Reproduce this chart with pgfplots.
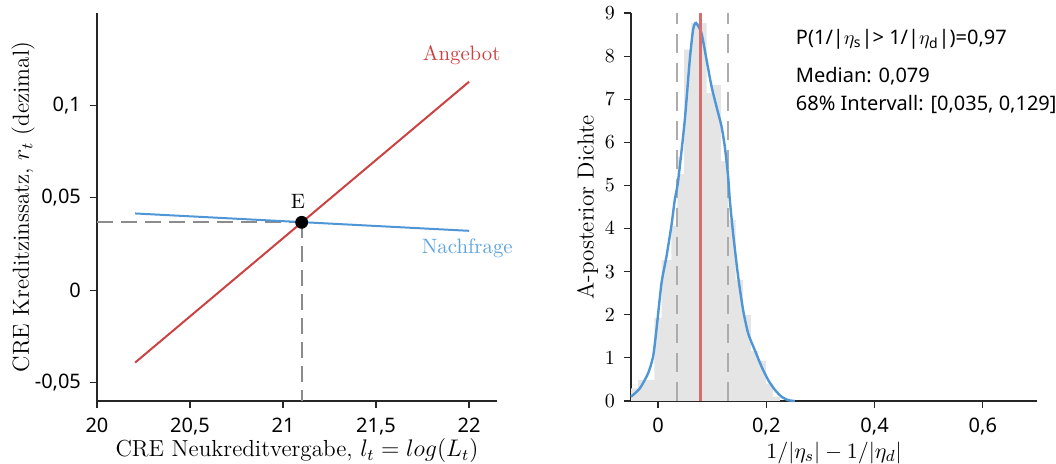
\documentclass[border=0pt]{standalone}
\usepackage{fontspec}
\setsansfont{Noto Sans}
\usepackage{pgfplots}
\pgfplotsset{compat=1.18}
\definecolor{angebot}{RGB}{204,66,66}
\definecolor{nachfrage}{RGB}{78,150,214}
\definecolor{nachtext}{RGB}{96,164,222}
\definecolor{median}{RGB}{214,110,110}
\definecolor{histfill}{RGB}{229,229,229}
\definecolor{dashgray}{RGB}{140,140,140}
\definecolor{dashlight}{RGB}{172,172,172}

\pgfplotsset{
  common/.style={
    scale only axis,
    height=194pt,
    axis x line*=bottom,
    axis y line*=left,
    tick align=outside,
    major tick length=3.5pt,
    minor tick num=0,
    axis line style={black!85, line width=0.6pt},
    every tick/.style={black!85, line width=0.6pt},
    ticklabel style={font=\sffamily\fontsize{10}{12}\selectfont},
    xticklabel style={yshift=-1.5pt},
    yticklabel style={xshift=-1pt},
    label style={font=\fontsize{11.6}{13}\selectfont},
    clip=false,
  }
}

\begin{document}
\begin{tikzpicture}
\path[use as bounding box] (0,0) rectangle (528pt,232pt);

% left: supply and demand
\begin{axis}[common,
    at={(48.5pt,31.5pt)}, anchor=south west,
    width=200pt,
    xmin=20, xmax=22.15,
    ymin=-0.06, ymax=0.15,
    xtick={20,20.5,21,21.5,22},
    xticklabels={20,{20,5},21,{21,5},22},
    ytick={-0.05,0,0.05,0.1},
    yticklabels={{-0,05},0,{0,05},{0,1}},
    xlabel={CRE Neukreditvergabe, $l_t = log(L_t)$},
    ylabel={CRE Kreditzinssatz, $r_t$ (dezimal)},
    xlabel style={at={(axis description cs:0.5,-0.128)}, anchor=center},
    ylabel style={at={(axis description cs:-0.185,0.5)}, anchor=center},
]
\addplot[dashgray, line width=1pt, dash pattern=on 8pt off 4pt] coordinates {(20,0.0367) (21.1,0.0367)};
\addplot[dashgray, line width=1pt, dash pattern=on 8pt off 4pt] coordinates {(21.1,0.0367) (21.1,-0.06)};
\addplot[angebot, line width=1pt] coordinates {(20.205,-0.0392) (22.0,0.1128)};
\addplot[nachfrage, line width=1pt] coordinates {(20.205,0.0415) (22.0,0.0321)};
\addplot[only marks, mark=*, mark size=3pt, black] coordinates {(21.1,0.0367)};
\node[angebot, font=\fontsize{10.4}{12}\selectfont] at (axis cs:21.96,0.127) {Angebot};
\node[nachtext, font=\fontsize{10.4}{12}\selectfont] at (axis cs:21.99,0.0227) {Nachfrage};
\node[font=\fontsize{10.4}{12}\selectfont] at (axis cs:21.08,0.048) {E};
\end{axis}

% right: posterior density
\begin{axis}[common,
    at={(315.5pt,31.5pt)}, anchor=south west,
    width=203pt,
    xmin=-0.05, xmax=0.7,
    ymin=0, ymax=9,
    xtick={0,0.2,0.4,0.6},
    xticklabels={0,{0,2},{0,4},{0,6}},
    ytick={0,1,...,9},
    xlabel={$1/|\eta_s| - 1/|\eta_d|$},
    ylabel={A-posterior Dichte},
    xlabel style={at={(axis description cs:0.5,-0.133)}, anchor=center,
                  font=\fontsize{11.2}{13}\selectfont},
    ylabel style={at={(axis description cs:-0.107,0.5)}, anchor=center},
]
% histogram (bin left edges, heights)
\addplot[fill=histfill, draw=none, const plot mark left] coordinates {
  (-0.05,0.29) (-0.0375,0.49) (-0.0070,1.93) (0.0068,3.27) (0.0244,4.07)
  (0.0355,5.66) (0.0401,5.26) (0.0481,8.15) (0.0617,8.77) (0.0895,7.14)
  (0.0987,7.33) (0.1159,5.57) (0.1294,4.20) (0.1431,2.81) (0.1571,2.00)
  (0.1713,1.16) (0.1848,0.93) (0.1991,0.40) (0.2120,0.10) (0.2250,0.10)
} \closedcycle;
\addplot[dashlight, line width=1pt, dash pattern=on 9.5pt off 5pt] coordinates {(0.035,0) (0.035,9)};
\addplot[dashlight, line width=1pt, dash pattern=on 9.5pt off 5pt] coordinates {(0.129,0) (0.129,9)};
% kernel density
\addplot[nachfrage, line width=1.2pt, smooth, tension=0.4] coordinates {
  (-0.05,0.10) (-0.0338,0.29) (-0.0185,0.64) (-0.0092,1.03) (-0.0030,1.65)
  (0.0063,2.73) (0.0155,3.35) (0.0248,4.08) (0.0309,4.67) (0.0370,5.10)
  (0.0494,6.52) (0.0586,7.92) (0.0647,8.61) (0.0700,8.77) (0.0802,8.53)
  (0.0895,7.92) (0.0987,7.30) (0.1079,6.83) (0.1172,6.37) (0.1233,5.90)
  (0.1294,5.21) (0.1325,4.67) (0.1386,3.89) (0.1479,2.89) (0.1571,2.11)
  (0.1664,1.57) (0.1787,1.18) (0.1911,0.80) (0.2033,0.49) (0.2157,0.26)
  (0.2281,0.10) (0.2403,0.02) (0.2527,0.00)
};
\addplot[median, line width=1.5pt] coordinates {(0.079,0) (0.079,9)};
\node[anchor=base west, inner sep=0pt, font=\sffamily\fontsize{10}{12}\selectfont] at (axis cs:0.254,8.27)
  {P(1/|$\eta_{\mathsf{s}}$|> 1/|$\eta_{\mathsf{d}}$|)=0,97};
\node[anchor=base west, inner sep=0pt, font=\sffamily\fontsize{10}{12}\selectfont] at (axis cs:0.254,7.39)
  {Median: 0,079};
\node[anchor=base west, inner sep=0pt, font=\sffamily\fontsize{10}{12}\selectfont] at (axis cs:0.254,6.73)
  {68\% Intervall: [0,035, 0,129]};
\end{axis}
\end{tikzpicture}
\end{document}
